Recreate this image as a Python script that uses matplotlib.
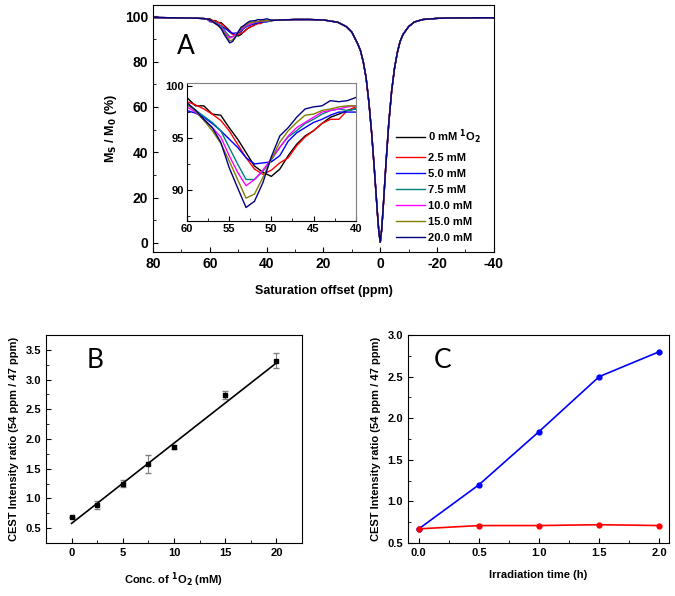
import numpy as np
import matplotlib
matplotlib.use('Agg')
from matplotlib import pyplot as plt
from matplotlib.ticker import MultipleLocator

plt.rcParams['font.family'] = ['Liberation Sans', 'DejaVu Sans']
plt.rcParams['font.weight'] = 'bold'
plt.rcParams['axes.labelweight'] = 'bold'
plt.rcParams['mathtext.default'] = 'bf'
plt.rcParams['axes.unicode_minus'] = False

# ---- Panel A: Z-spectra ----
x_left = [80, 75, 70, 65, 62, 61]
y_left = [99.5, 99.4, 99.3, 99.2, 99.0, 98.8]

x_mid = [60, 59, 58, 57, 56, 55, 54, 53, 52, 51, 50,
         49, 48, 47, 46, 45, 44, 43, 42, 41, 40]
y_0mM = [98.9, 98.1, 98.1, 97.3, 97.2, 96.0, 94.9, 93.6, 92.3, 91.7, 91.3,
         92.0, 93.3, 94.4, 95.2, 95.7, 96.4, 97.0, 97.3, 97.65, 97.8]
y_2p5 = [98.5, 98.2, 97.8, 97.3, 96.7, 95.7, 94.4, 93.1, 92.0, 91.5, 91.9,
         92.6, 93.1, 94.25, 95.1, 95.7, 96.4, 96.8, 96.8, 97.65, 98.0]
y_5p0 = [97.65, 97.4, 97.0, 96.4, 95.7, 94.9, 94.1, 93.1, 92.5, 92.6, 92.7,
         93.3, 94.7, 95.5, 96.0, 96.5, 96.8, 97.2, 97.5, 97.5, 97.5]
y_7p5 = [98.2, 97.7, 97.1, 96.5, 95.7, 94.1, 92.5, 91.0, 91.0, 91.8, 92.9,
         94.1, 95.1, 95.7, 96.4, 96.8, 97.3, 97.65, 97.8, 97.65, 97.8]
y_10 = [98.0, 97.5, 96.8, 96.0, 95.1, 93.3, 91.7, 90.4, 91.0, 91.9, 93.0,
        94.1, 95.2, 96.0, 96.5, 97.0, 97.5, 97.65, 97.8, 98.0, 98.1]
y_15 = [98.3, 97.6, 96.7, 95.7, 94.5, 92.8, 91.0, 89.2, 89.6, 91.2, 92.95,
        94.6, 95.7, 96.5, 97.2, 97.3, 97.65, 97.8, 98.0, 98.1, 98.1]
y_20 = [98.4, 97.7, 96.8, 96.0, 94.6, 92.15, 90.2, 88.3, 88.9, 90.7, 93.2,
        95.2, 96.0, 97.0, 97.8, 98.0, 98.1, 98.6, 98.5, 98.6, 98.9]

x_right = [38, 35, 30, 25, 20, 15, 12, 10, 8, 7, 6, 5, 4, 3, 2, 1.5, 1, 0.5, 0,
           -0.5, -1, -1.5, -2, -3, -4, -5, -6, -7, -8, -10, -12, -15, -20, -25, -30, -35, -40]
y_right = [98.2, 98.4, 98.6, 98.6, 98.4, 97.4, 95.5, 93, 88, 85, 80, 73, 62, 48, 31, 22, 13, 5, 0.3,
           6, 15, 25, 35, 53, 67, 77, 84, 89, 92, 95.5, 97.5, 98.6, 99.1, 99.3, 99.3, 99.4, 99.4]

labels_a = ['0 mM $^{\\mathbf{1}}$O$_{\\mathbf{2}}$', '2.5 mM', '5.0 mM', '7.5 mM',
            '10.0 mM', '15.0 mM', '20.0 mM']
colors_a = ['black', 'red', 'blue', '#008080', 'magenta', '#808000', '#000080']
mids = [y_0mM, y_2p5, y_5p0, y_7p5, y_10, y_15, y_20]

# ---- Panel B ----
conc = [0, 2.5, 5, 7.5, 10, 15, 20]
ratio_b = [0.69, 0.89, 1.25, 1.58, 1.87, 2.74, 3.32]
err_b = [0.0, 0.07, 0.06, 0.15, 0.03, 0.07, 0.12]
fit_x = [0, 20]
fit_y = [0.58, 3.28]

# ---- Panel C ----
t_h = [0, 0.5, 1.0, 1.5, 2.0]
ratio_blue = [0.67, 1.20, 1.84, 2.50, 2.80]
ratio_red = [0.67, 0.71, 0.71, 0.72, 0.71]

fig = plt.figure(figsize=(6.75, 5.96), dpi=100)

axA = fig.add_axes([0.2267, 0.5772, 0.505, 0.4144])
axI = fig.add_axes([0.277, 0.6292, 0.250, 0.2315])
for y_m, c, lab in zip(mids, colors_a, labels_a):
    xx = x_left + x_mid + x_right
    yy = y_left + y_m + y_right
    axA.plot(xx, yy, color=c, lw=1.0, label=lab)
    axI.plot(x_mid, y_m, color=c, lw=1.0)

axA.set_xlim(80, -40)
axA.set_ylim(-4, 105)
axA.xaxis.set_major_locator(MultipleLocator(20))
axA.xaxis.set_minor_locator(MultipleLocator(10))
axA.yaxis.set_major_locator(MultipleLocator(20))
axA.yaxis.set_minor_locator(MultipleLocator(10))
axA.tick_params(which='both', direction='in', labelsize=10)
axA.set_xlabel('Saturation offset (ppm)', fontsize=9, labelpad=10)
axA.set_ylabel('M$_{\\mathbf{S}}$ / M$_{\\mathbf{0}}$ (%)', fontsize=9, labelpad=4)
axA.text(0.07, 0.80, 'A', transform=axA.transAxes, fontsize=19, fontweight='normal',
         family='Lato')
axA.legend(loc='upper left', bbox_to_anchor=(0.70, 0.52), frameon=False, fontsize=8,
           handlelength=2.6, borderaxespad=0, labelspacing=0.55, handletextpad=0.3)

axI.set_xlim(60, 40)
axI.set_ylim(87, 100.3)
axI.xaxis.set_major_locator(MultipleLocator(5))
axI.xaxis.set_minor_locator(MultipleLocator(2.5))
axI.yaxis.set_major_locator(MultipleLocator(5))
axI.yaxis.set_minor_locator(MultipleLocator(2.5))
axI.tick_params(which='both', direction='in', labelsize=8, pad=2)
for s in ['top', 'right']:
    axI.spines[s].set_color('gray')

axB = fig.add_axes([0.0681, 0.0889, 0.3793, 0.349])
axB.errorbar(conc, ratio_b, yerr=err_b, fmt='s', color='black', ms=3.5,
             ecolor='gray', elinewidth=0.8, capsize=2)
axB.plot(fit_x, fit_y, color='black', lw=1.2)
axB.set_xlim(-2.5, 22.5)
axB.set_ylim(0.25, 3.75)
axB.xaxis.set_major_locator(MultipleLocator(5))
axB.xaxis.set_minor_locator(MultipleLocator(2.5))
axB.yaxis.set_major_locator(MultipleLocator(0.5))
axB.yaxis.set_minor_locator(MultipleLocator(0.25))
axB.tick_params(which='both', direction='in', labelsize=8)
axB.set_xlabel('Conc. of $^{\\mathbf{1}}$O$_{\\mathbf{2}}$ (mM)', fontsize=8, labelpad=9)
axB.set_ylabel('CEST Intensity ratio (54 ppm / 47 ppm)', fontsize=8, labelpad=5)
axB.text(0.16, 0.84, 'B', transform=axB.transAxes, fontsize=19, fontweight='normal',
         family='Lato')

axC = fig.add_axes([0.6044, 0.0889, 0.3867, 0.349])
axC.plot(t_h, ratio_blue, '-o', color='blue', ms=3.5, lw=1.2)
axC.plot(t_h, ratio_red, '-o', color='red', ms=3.5, lw=1.2)
axC.set_xlim(-0.09, 2.08)
axC.set_ylim(0.5, 3.0)
axC.xaxis.set_major_locator(MultipleLocator(0.5))
axC.xaxis.set_minor_locator(MultipleLocator(0.25))
axC.yaxis.set_major_locator(MultipleLocator(0.5))
axC.yaxis.set_minor_locator(MultipleLocator(0.25))
axC.tick_params(which='both', direction='in', labelsize=8)
axC.set_xlabel('Irradiation time (h)', fontsize=8, labelpad=9)
axC.set_ylabel('CEST Intensity ratio (54 ppm / 47 ppm)', fontsize=8, labelpad=5)
axC.text(0.10, 0.84, 'C', transform=axC.transAxes, fontsize=19, fontweight='normal',
         family='Lato')

fig.savefig('out.png', dpi=100)
